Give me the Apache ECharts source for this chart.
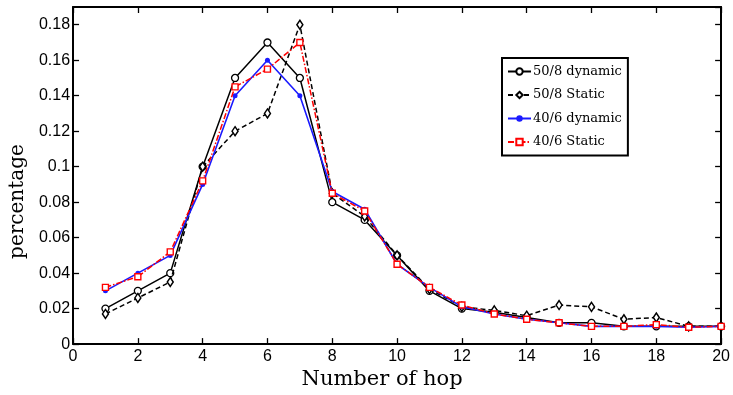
<!DOCTYPE html>
<html>
<head>
<meta charset="utf-8">
<script src="https://cdn.jsdelivr.net/npm/echarts@6/dist/echarts.min.js"></script>
<style>
  html, body { margin: 0; padding: 0; background: #fff; }
  #chart { width: 733px; height: 395px; }
</style>
</head>
<body>
<div id="chart"></div>
<script>
// Hop counts on the x axis
const hops = [1, 2, 3, 4, 5, 6, 7, 8, 9, 10, 11, 12, 13, 14, 15, 16, 17, 18, 19, 20];

// Share of paths per hop count
const dynamic50_8 = [0.020, 0.030, 0.040, 0.100, 0.150, 0.170, 0.150, 0.080, 0.070, 0.050,
                     0.030, 0.020, 0.018, 0.015, 0.012, 0.012, 0.010, 0.010, 0.010, 0.010];
const static50_8  = [0.017, 0.026, 0.035, 0.100, 0.120, 0.130, 0.180, 0.085, 0.072, 0.050,
                     0.031, 0.021, 0.019, 0.016, 0.022, 0.021, 0.014, 0.015, 0.010, 0.010];
const dynamic40_6 = [0.030, 0.040, 0.050, 0.090, 0.140, 0.160, 0.140, 0.086, 0.076, 0.045,
                     0.032, 0.021, 0.017, 0.014, 0.012, 0.010, 0.010, 0.010, 0.0095, 0.010];
const static40_6  = [0.032, 0.038, 0.052, 0.092, 0.145, 0.155, 0.170, 0.085, 0.075, 0.045,
                     0.032, 0.022, 0.017, 0.014, 0.012, 0.010, 0.010, 0.011, 0.0095, 0.010];

const seriesNames = ['50/8 dynamic', '50/8 Static', '40/6 dynamic', '40/6 Static'];

const pairs = vals => hops.map((h, i) => [h, vals[i]]);

const serif = 'DejaVu Serif';
const sans = 'Liberation Sans';

const chart = echarts.init(document.getElementById('chart'), null, { renderer: 'canvas' });

const tickStyle = { color: '#000', width: 1.3 };

chart.setOption({
  animation: false,
  backgroundColor: '#fff',
  grid: { left: 73, right: 10, top: 7, bottom: 46, containLabel: false },
  legend: {
    orient: 'vertical',
    left: 502,
    top: 58,
    padding: [7, 6, 7, 5],
    itemWidth: 23,
    itemHeight: 8,
    itemGap: 10.5,
    backgroundColor: '#fff',
    borderColor: '#000',
    borderWidth: 2,
    borderRadius: 0,
    textStyle: { fontFamily: serif, fontSize: 13, color: '#000', padding: [0, 0, 0, -3] },
    data: seriesNames
  },
  xAxis: [
    {
      type: 'value', min: 0, max: 20, interval: 2,
      name: 'Number of hop', nameLocation: 'middle', nameGap: 22,
      nameTextStyle: { fontFamily: serif, fontSize: 21, color: '#000', padding: [0, 30, 0, 0] },
      axisLine: { show: true, onZero: false, lineStyle: { color: '#000', width: 2 } },
      axisTick: { show: true, inside: true, length: 6, lineStyle: tickStyle },
      axisLabel: { fontFamily: sans, fontSize: 16, color: '#000', margin: 4 },
      splitLine: { show: false }
    },
    {
      type: 'value', min: 0, max: 20, interval: 2, position: 'top',
      axisLine: { show: true, onZero: false, lineStyle: { color: '#000', width: 2 } },
      axisTick: { show: true, inside: true, length: 6, lineStyle: tickStyle },
      axisLabel: { show: false },
      splitLine: { show: false }
    }
  ],
  yAxis: [
    {
      type: 'value', min: 0, max: 0.19, interval: 0.02,
      name: 'percentage', nameLocation: 'middle', nameGap: 43,
      nameTextStyle: { fontFamily: serif, fontSize: 20, color: '#000', padding: [0, 52, 0, 0] },
      nameRotate: 90,
      axisLine: { show: true, onZero: false, lineStyle: { color: '#000', width: 2 } },
      axisTick: { show: true, inside: true, length: 6, lineStyle: tickStyle },
      axisLabel: { fontFamily: sans, fontSize: 16, color: '#000', margin: 3, showMaxLabel: false },
      splitLine: { show: false }
    },
    {
      type: 'value', min: 0, max: 0.19, interval: 0.02, position: 'right',
      axisLine: { show: true, onZero: false, lineStyle: { color: '#000', width: 2 } },
      axisTick: { show: true, inside: true, length: 6, lineStyle: tickStyle },
      axisLabel: { show: false },
      splitLine: { show: false }
    }
  ],
  series: [
    {
      name: seriesNames[0], type: 'line', data: pairs(dynamic50_8),
      symbol: 'circle', symbolSize: 7, showAllSymbol: true,
      lineStyle: { color: '#000', width: 1.5, type: 'solid' },
      itemStyle: { color: '#fff', borderColor: '#000', borderWidth: 1.3 },
      z: 2
    },
    {
      name: seriesNames[1], type: 'line', data: pairs(static50_8),
      symbol: 'diamond', symbolSize: [6, 9], showAllSymbol: true,
      lineStyle: { color: '#000', width: 1.5, type: [5, 3] },
      itemStyle: { color: '#fff', borderColor: '#000', borderWidth: 1.5 },
      z: 3
    },
    {
      name: seriesNames[2], type: 'line', data: pairs(dynamic40_6),
      symbol: 'circle', symbolSize: 5, showAllSymbol: true,
      lineStyle: { color: '#1a1aff', width: 1.6, type: 'solid' },
      itemStyle: { color: '#1a1aff', borderColor: '#1a1aff', borderWidth: 0 },
      z: 4
    },
    {
      name: seriesNames[3], type: 'line', data: pairs(static40_6),
      symbol: 'rect', symbolSize: 6, showAllSymbol: true,
      lineStyle: { color: '#ff0000', width: 1.5, type: [6, 2, 1.5, 2] },
      itemStyle: { color: '#fff', borderColor: '#ff0000', borderWidth: 1.4 },
      z: 5
    }
  ]
});
</script>
</body>
</html>
